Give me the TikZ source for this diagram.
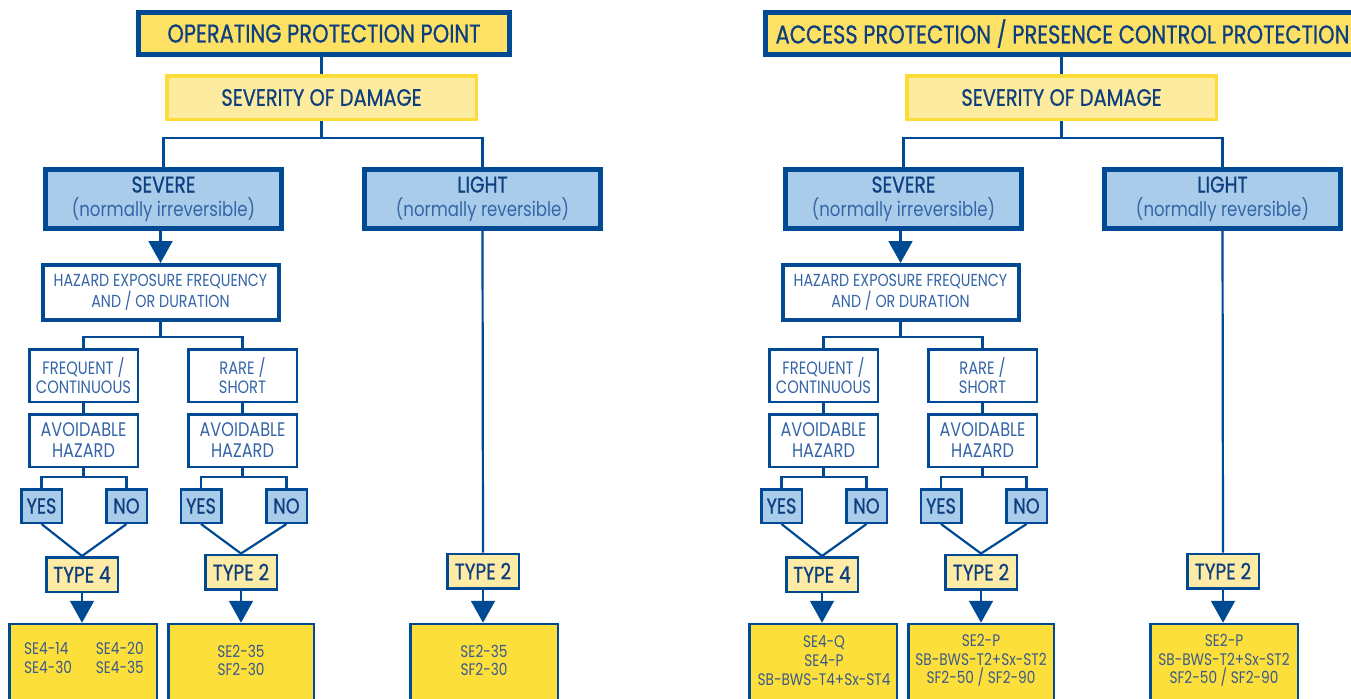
\documentclass[tikz,border=0pt]{standalone}
\usepackage{fontspec}
\setmainfont{Poppins}[FakeStretch=0.82]
\newfontfamily\medfont{Poppins}[FakeStretch=0.82, FakeBold=0.7]
\usetikzlibrary{arrows.meta}
\newlength\px \setlength\px{0.02cm}
\definecolor{dblue}{HTML}{004A94}
\definecolor{tblue}{HTML}{0D3E7E}
\definecolor{lblue}{HTML}{3565A8}
\definecolor{gblue}{HTML}{3A5A8A}
\definecolor{skyfill}{HTML}{AACCEB}
\definecolor{titlefill}{HTML}{FDE165}
\definecolor{sevfill}{HTML}{FDEBA0}
\definecolor{sevborder}{HTML}{FDDC3A}
\definecolor{typefill}{HTML}{FDEBA6}
\definecolor{outfill}{HTML}{FDDF3C}
\newcommand\bighead[1]{{\medfont\fontsize{13}{13.6}\selectfont #1}}
\tikzset{
  x=0.02cm, y=-0.02cm,
  base/.style={rectangle, inner sep=0pt, align=center},
  titlebox/.style={base, draw=dblue, line width=5\px, fill=titlefill, text=tblue,
    font=\medfont\fontsize{14.6}{16}\selectfont, minimum height=42\px},
  sevbox/.style={base, draw=sevborder, line width=3.5\px, fill=sevfill, text=tblue,
    font=\medfont\fontsize{13.5}{15}\selectfont, minimum width=309.5\px, minimum height=43.5\px},
  bluebox/.style={base, draw=dblue, line width=5\px, fill=skyfill, text=tblue,
    font=\fontsize{11.5}{13.6}\selectfont, minimum width=236\px, minimum height=59\px},
  hazbox/.style={base, draw=dblue, line width=4\px, fill=white, text=lblue,
    font=\fontsize{9.9}{10.4}\selectfont, minimum width=236\px, minimum height=55\px},
  thinbox/.style={base, draw=dblue, line width=2.5\px, fill=white, text=lblue,
    font=\fontsize{10.2}{10.4}\selectfont, minimum width=108.5\px, minimum height=52.5\px},
  avbox/.style={thinbox, font=\fontsize{11.2}{12}\selectfont},
  ynbox/.style={base, draw=dblue, line width=2.5\px, fill=skyfill, text=tblue,
    font=\medfont\fontsize{12.3}{14}\selectfont, minimum width=40.5\px, minimum height=33.5\px},
  typebox/.style={base, draw=dblue, line width=2.5\px, fill=typefill, text=tblue,
    font=\medfont\fontsize{12.8}{14}\selectfont, minimum width=71.5\px, minimum height=34.5\px},
  outbox/.style={base, draw=dblue, line width=2.5\px, fill=outfill, minimum height=105\px},
  outtext/.style={base, text=gblue, font=\fontsize{9.5}{10.6}\selectfont},
  conn/.style={draw=dblue, line width=2.2\px},
  arr/.style={conn, -{Triangle[width=13.6pt,length=12.5pt]}},
}
\newcommand\flowtree[4]{%
  \node[sevbox] (#1sev) at (321.5,97.5) {SEVERITY OF DAMAGE};
  \node[bluebox] (#1severe) at (163.5,199) {\bighead{SEVERE}\\{\color{lblue}(normally irreversible)}};
  \node[bluebox] (#1light) at (482.5,199) {\bighead{LIGHT}\\{\color{lblue}(normally reversible)}};
  \node[hazbox] (#1haz) at (160.5,292.5) {HAZARD EXPOSURE FREQUENCY\\AND / OR DURATION};
  \node[thinbox] (#1freq) at (83.5,375.5) {FREQUENT /\\CONTINUOUS};
  \node[thinbox] (#1rare) at (242.5,375.5) {RARE /\\SHORT};
  \node[avbox] (#1avA) at (83.5,440.5) {AVOIDABLE\\HAZARD};
  \node[avbox] (#1avB) at (242.5,440.5) {AVOIDABLE\\HAZARD};
  \node[ynbox] (#1yesA) at (41.5,506) {YES};
  \node[ynbox] (#1noA) at (126.5,506) {NO};
  \node[ynbox] (#1yesB) at (201,506) {YES};
  \node[ynbox] (#1noB) at (286.5,506) {NO};
  \node[typebox] (#1typeA) at (82,574.5) {TYPE 4};
  \node[typebox] (#1typeB) at (241,572) {TYPE 2};
  \node[typebox] (#1typeC) at (483,571) {TYPE 2};
  \node[outbox, minimum width=147.5\px] (#1outA) at (83,676.5) {};
  \node[outbox, minimum width=145.5\px] (#1outB) at (241,676.5) {};
  \node[outbox, minimum width=147.5\px] (#1outC) at (484,676.5) {};
  \node[outtext] (#1outAt) at (84,660.5) {#2};
  \node[outtext] (#1outBt) at (241,660.5) {#3};
  \node[outtext] (#1outCt) at (484,660.5) {#4};
  \coordinate (#1br) at (#1sev.south |- 0,138);
  \coordinate (#1hb) at (#1haz.south |- 0,337);
  \coordinate (#1abA) at (#1avA.south |- 0,477);
  \coordinate (#1abB) at (#1avB.south |- 0,477);
  \draw[conn] (#1sev.south) -- (#1br);
  \draw[conn] (#1severe.north) |- (#1br) -| (#1light.north);
  \draw[arr] (#1haz.north |- #1severe.south) -- (#1haz.north);
  \draw[conn] (#1haz.south) -- (#1hb);
  \draw[conn] (#1freq.north) |- (#1hb) -| (#1rare.north);
  \draw[conn] (#1freq.south) -- (#1avA.north);
  \draw[conn] (#1rare.south) -- (#1avB.north);
  \draw[conn] (#1avA.south) -- (#1abA);
  \draw[conn] (#1avB.south) -- (#1abB);
  \draw[conn] (#1yesA.north) |- (#1abA) -| (#1noA.north);
  \draw[conn] (#1yesB.north) |- (#1abB) -| (#1noB.north);
  \draw[conn] (#1yesA.south) -- (#1typeA.north);
  \draw[conn] (#1noA.south) -- (#1typeA.north);
  \draw[conn] (#1yesB.south) -- (#1typeB.north);
  \draw[conn] (#1noB.south) -- (#1typeB.north);
  \draw[conn] (#1light.south) -- (#1typeC.north);
  \draw[arr] (#1typeA.south) -- (#1typeA.south |- #1outA.north);
  \draw[arr] (#1typeB.south) -- (#1typeB.south |- #1outB.north);
  \draw[arr] (#1typeC.south) -- (#1typeC.south |- #1outC.north);
}
\begin{document}
\begin{tikzpicture}
\clip (0,0) rectangle (1351,698);
\fill[white] (0,0) rectangle (1351,698);
\node[titlebox, minimum width=371\px] (Ltitle) at (324,33.5) {OPERATING PROTECTION POINT};
\node[titlebox, minimum width=640\px] (Rtitle) at (1085.5,33.5) {\hspace*{-46\px}ACCESS PROTECTION / PRESENCE CONTROL PROTECTION};
\flowtree{L}{\begin{tabular}{@{}l@{\hspace{13.6pt}}l@{}}SE4-14 & SE4-20\\ SE4-30 & SE4-35\end{tabular}}{SE2-35\\SF2-30}{SE2-35\\SF2-30}
\draw[conn] (Lsev.north) -- (Lsev.north |- Ltitle.south);
\begin{scope}[xshift=740\px]
\flowtree{R}{SE4-Q\\SE4-P\\SB-BWS-T4+Sx-ST4}{SE2-P\\SB-BWS-T2+Sx-ST2\\SF2-50 / SF2-90}{SE2-P\\SB-BWS-T2+Sx-ST2\\SF2-50 / SF2-90}
\end{scope}
\draw[conn] (Rsev.north) -- (Rsev.north |- 0,57);
\end{tikzpicture}
\end{document}
